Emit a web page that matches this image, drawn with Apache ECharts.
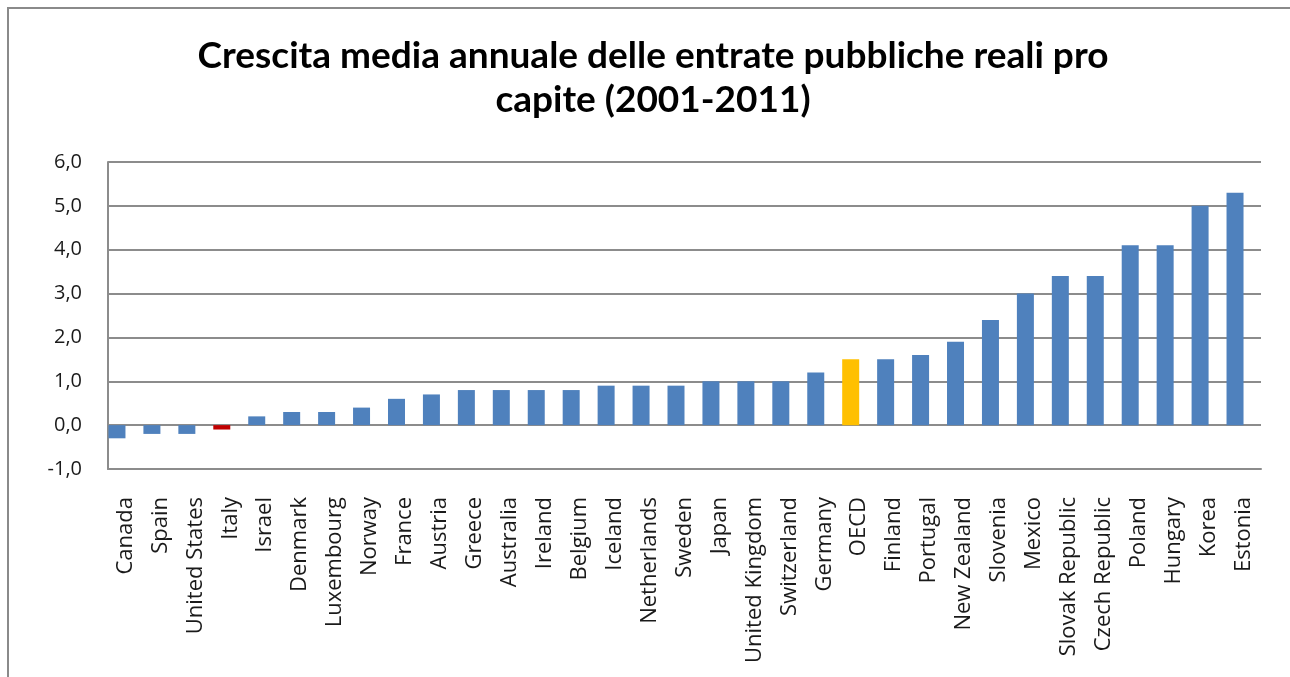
<!DOCTYPE html>
<html>
<head>
<meta charset="utf-8">
<script src="https://cdn.jsdelivr.net/npm/echarts@6/dist/echarts.min.js"></script>
<style>
html,body{margin:0;padding:0;background:#fff;}
#chart{width:1290px;height:677px;}
</style>
</head>
<body>
<div id="chart"></div>
<script>
const titleText = "Crescita media annuale delle entrate pubbliche reali pro\ncapite (2001-2011)";
const categories = ["Canada","Spain","United States","Italy","Israel","Denmark","Luxembourg","Norway","France","Austria","Greece","Australia","Ireland","Belgium","Iceland","Netherlands","Sweden","Japan","United Kingdom","Switzerland","Germany","OECD","Finland","Portugal","New Zealand","Slovenia","Mexico","Slovak Republic","Czech Republic","Poland","Hungary","Korea","Estonia"];
const values = [-0.3,-0.2,-0.2,-0.1,0.2,0.3,0.3,0.4,0.6,0.7,0.8,0.8,0.8,0.8,0.9,0.9,0.9,1.0,1.0,1.0,1.2,1.5,1.5,1.6,1.9,2.4,3.0,3.4,3.4,4.1,4.1,5.0,5.3];
const highlightRed = ["Italy"];
const highlightYellow = ["OECD"];
const yTicks = {min:-1, max:6, interval:1};

const BLUE = "#4F81BD", RED = "#C00000", YELLOW = "#FFC000";
const barData = values.map((v, i) => ({
  value: v,
  itemStyle: {color: highlightRed.includes(categories[i]) ? RED : (highlightYellow.includes(categories[i]) ? YELLOW : BLUE)}
}));

const chart = echarts.init(document.getElementById('chart'), null, {renderer:'canvas'});
const gridCol = "#8c8c8c";
const labelFont = "'Open Sans', 'Noto Sans', sans-serif";
chart.setOption({
  animation: false,
  backgroundColor: "#ffffff",
  title: {
    text: titleText,
    left: 648,
    top: 29,
    textAlign: "center",
    textStyle: {fontFamily: "Lato, 'Open Sans', sans-serif", fontSize: 37, fontWeight: "bold", color: "#000", lineHeight: 44}
  },
  graphic: [{
    type: "rect", silent: true,
    shape: {x: 8, y: 8, width: 1320, height: 720},
    style: {fill: "none", stroke: "#8a8a8a", lineWidth: 2}
  }],
  grid: [
    {left: 108, right: 29, top: 162, bottom: 208, containLabel: false},
    {left: 99.5, right: 37.5, top: 162, bottom: 208, containLabel: false}
  ],
  xAxis: [
    {
      type: "category", gridIndex: 0, data: categories, position: "bottom",
      axisLine: {show: true, onZero: false, lineStyle: {color: gridCol, width: 2}},
      axisTick: {show: false},
      axisLabel: {rotate: 90, interval: 0, margin: 28, fontSize: 22, color: "#1a1a1a", fontFamily: labelFont},
      splitLine: {show: false}
    },
    {
      type: "category", gridIndex: 1, data: categories, show: false
    }
  ],
  yAxis: [
    {
      type: "value", gridIndex: 0, min: yTicks.min, max: yTicks.max, interval: yTicks.interval,
      axisLine: {show: true, lineStyle: {color: gridCol, width: 2}},
      axisTick: {show: false},
      axisLabel: {margin: 26, fontSize: 20, color: "#1a1a1a", fontFamily: labelFont,
        formatter: v => v.toFixed(1).replace(".", ",")},
      splitLine: {show: true, lineStyle: {color: gridCol, width: 2}}
    },
    {
      type: "value", gridIndex: 1, min: yTicks.min, max: yTicks.max, interval: yTicks.interval, show: false,
      splitLine: {show: false}
    }
  ],
  series: [{
    type: "bar", xAxisIndex: 1, yAxisIndex: 1,
    data: barData, barWidth: 17
  }]
});
</script>
</body>
</html>
